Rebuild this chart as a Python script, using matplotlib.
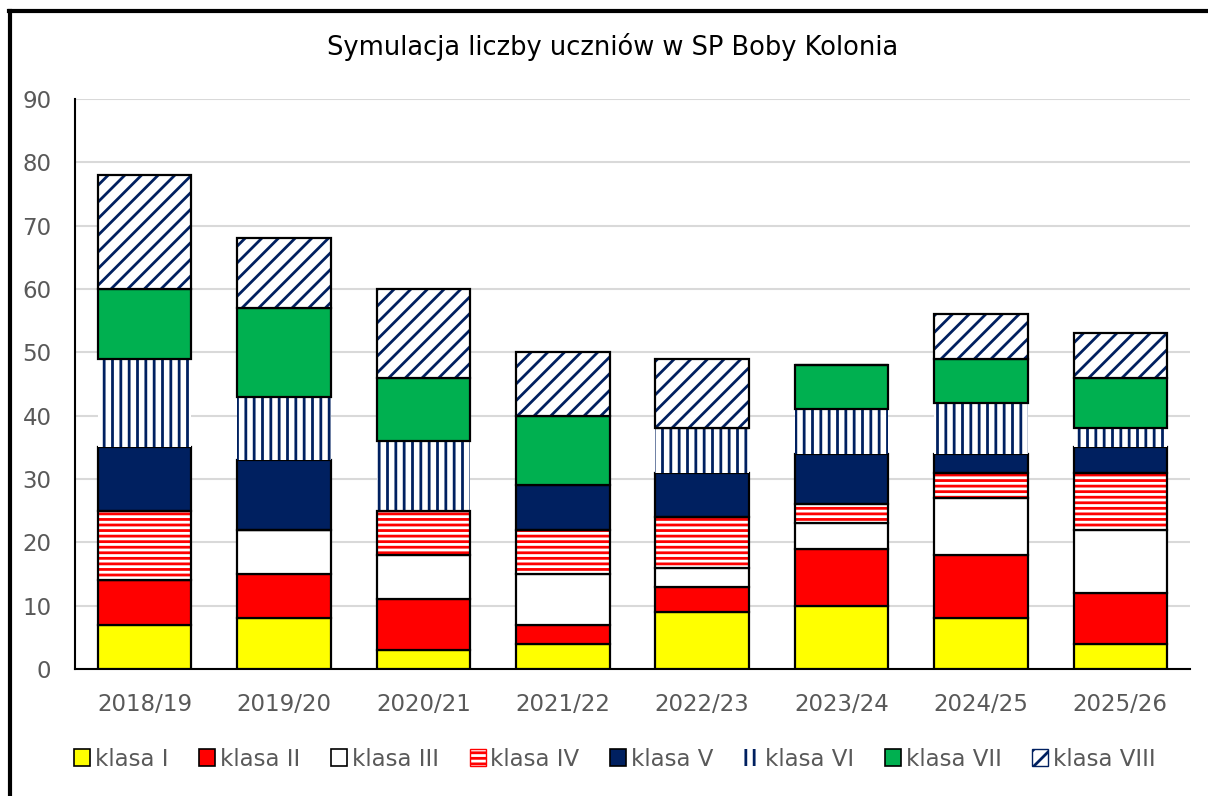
import numpy as np
import matplotlib
matplotlib.use("Agg")
import matplotlib.pyplot as plt
from matplotlib.patches import Patch
from matplotlib.lines import Line2D

plt.rcParams['font.family'] = ['DejaVu Sans']
plt.rcParams['hatch.linewidth'] = 2.0

years = ['2018/19', '2019/20', '2020/21', '2021/22', '2022/23', '2023/24', '2024/25', '2025/26']
labels = ['klasa I', 'klasa II', 'klasa III', 'klasa IV', 'klasa V', 'klasa VI', 'klasa VII', 'klasa VIII']

klasa_1 = [7, 8, 3, 4, 9, 10, 8, 4]
klasa_2 = [7, 7, 8, 3, 4, 9, 10, 8]
klasa_3 = [0, 7, 7, 8, 3, 4, 9, 10]
klasa_4 = [11, 0, 7, 7, 8, 3, 4, 9]
klasa_5 = [10, 11, 0, 7, 7, 8, 3, 4]
klasa_6 = [14, 10, 11, 0, 7, 7, 8, 3]
klasa_7 = [11, 14, 10, 11, 0, 7, 7, 8]
klasa_8 = [18, 11, 14, 10, 11, 0, 7, 7]
series = [klasa_1, klasa_2, klasa_3, klasa_4, klasa_5, klasa_6, klasa_7, klasa_8]

navy = '#002060'
# (face, hatch, hatch colour, black edge?)
styles = [
    ('#FFFF00', None, None, True),
    ('#FF0000', None, None, True),
    ('#FFFFFF', None, None, True),
    ('#FFFFFF', '---', '#FF0000', True),
    (navy, None, None, True),
    ('#FFFFFF', '||', navy, False),
    ('#00B050', None, None, True),
    ('#FFFFFF', '//', navy, True),
]

fig = plt.figure(figsize=(12.08, 7.96), dpi=100)
ax = fig.add_axes([75 / 1208, 1 - 669 / 796, (1190 - 75) / 1208, (669 - 99) / 796])

x = np.arange(len(years))
w = 0.67
bottom = np.zeros(len(years))
handles = []
for vals, lab, (fc, h, hc, edge) in zip(series, labels, styles):
    vals = np.array(vals, dtype=float)
    if h is not None:
        ax.bar(x, vals, w, bottom=bottom, color=fc, edgecolor=hc, hatch=h, linewidth=0, zorder=3)
        if edge:
            ax.bar(x, vals, w, bottom=bottom, fill=False, edgecolor='black', linewidth=1.6, zorder=4)
        handles.append(Patch(facecolor=fc, edgecolor=hc, hatch=h, linewidth=1.0 if edge else 0))
    else:
        ax.bar(x, vals, w, bottom=bottom, color=fc, edgecolor='black', linewidth=1.6, zorder=3)
        handles.append(Patch(facecolor=fc, edgecolor='black', linewidth=1.2))
    bottom += vals

ax.set_xlim(-0.5, len(years) - 0.5)
ax.set_ylim(0, 90)
ax.set_yticks(np.arange(0, 91, 10))
ax.set_xticks(x)
ax.set_xticklabels(years)
ax.tick_params(axis='both', length=0, labelsize=16.5, labelcolor='#595959')
ax.tick_params(axis='x', pad=17)
ax.tick_params(axis='y', pad=17)
ax.grid(axis='y', color='#D9D9D9', linewidth=1.5, zorder=0)
ax.set_axisbelow(True)
for s in ['top', 'right']:
    ax.spines[s].set_visible(False)
ax.spines['left'].set_color('black')
ax.spines['left'].set_linewidth(1.5)
ax.spines['bottom'].set_color('black')
ax.spines['bottom'].set_linewidth(1.5)

fig.text(0.507, 1 - 47 / 796, 'Symulacja liczby uczniów w SP Boby Kolonia',
         ha='center', va='center', fontsize=18.5, color='black')

fig.legend(handles, labels, loc='center', bbox_to_anchor=(0.509, 1 - 759 / 796), ncol=8,
           frameon=False, fontsize=16.5, handlelength=0.7, handleheight=0.7,
           handletextpad=0.2, columnspacing=1.35, labelcolor='#595959')

# outer frame (left and top edges)
fig.add_artist(Line2D([10 / 1208, 10 / 1208], [0, 1 - 10.5 / 796], color='black', linewidth=3,
                      transform=fig.transFigure))
fig.add_artist(Line2D([8.5 / 1208, 1], [1 - 10.5 / 796, 1 - 10.5 / 796], color='black', linewidth=3,
                      transform=fig.transFigure))

fig.savefig('out.png', dpi=100, facecolor='white')
